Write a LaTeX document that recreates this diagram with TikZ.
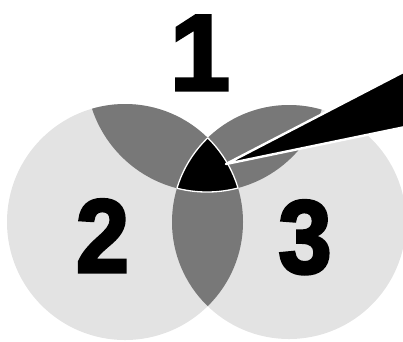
\documentclass[tikz,border=0pt]{standalone}
\usepackage{fontspec}
\newfontfamily\digitfont{Liberation Sans}[BoldFeatures={FakeBold=3}]
\usetikzlibrary{positioning}
\definecolor{Speckle}{gray}{0.89}
\definecolor{Lens}{gray}{0.47}
\tikzset{
  digit/.style={font=\digitfont\bfseries\fontsize{104}{104}\selectfont, inner sep=0pt, anchor=base},
  divider/.style={white, line width=1.3pt},
}
\def\ringone{(207,71) circle (121)}
\def\ringtwo{(125,222) circle (118)}
\def\ringthree{(289,222) circle (117)}

\begin{document}
\begin{tikzpicture}[x=1pt,y=-1pt]
  \useasboundingbox (0,0) rectangle (403,341);
  \fill[Speckle] \ringtwo \ringthree;
  \begin{scope}
    \clip \ringone;
    \fill[Lens] \ringtwo \ringthree;
  \end{scope}
  \begin{scope}
    \clip \ringtwo;
    \fill[Lens] \ringthree;
  \end{scope}
  \begin{scope}
    \clip \ringone; \clip \ringtwo;
    \fill[black] \ringthree;
  \end{scope}
  % white seams round the middle piece
  \begin{scope}
    \clip \ringtwo; \clip \ringthree;
    \draw[divider] \ringone;
  \end{scope}
  \begin{scope}
    \clip \ringone; \clip \ringtwo;
    \draw[divider] \ringthree;
  \end{scope}
  \begin{scope}
    \clip \ringone; \clip \ringthree;
    \draw[divider] \ringtwo;
  \end{scope}
  \coordinate (tip) at (226,164);
  \draw[white, line width=2.4pt, line join=round, fill=black]
    (tip) -- (410,68.5) -- (410,126) -- cycle;
  \node[digit, font=\digitfont\bfseries\fontsize{108}{108}\selectfont] (one) at (200,90) {1};
  \node[digit, xscale=0.92, transform shape] (two) at (102.5,272) {2};
  \node[digit, xscale=0.92, transform shape] (three) at (305,273) {3};
\end{tikzpicture}
\end{document}
